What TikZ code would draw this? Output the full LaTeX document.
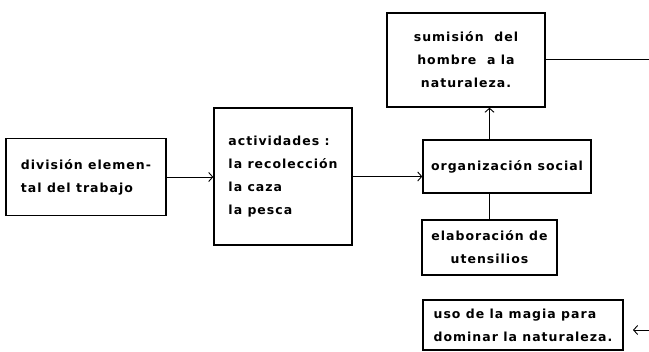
\documentclass[tikz,border=0pt]{standalone}
\usepackage{fontspec}
\newfontfamily\handfont{DejaVu Sans}[LetterSpace=8]
\usetikzlibrary{arrows.meta,calc}

\begin{document}
\begin{tikzpicture}[x=1pt,y=-1pt,
    caja/.style={draw=black,line width=1.4pt,align=left,inner sep=0pt,
      font=\handfont\bfseries\fontsize{12.5}{23}\selectfont},
    flecha/.style={line width=0.9pt,-{Straight Barb[length=4pt,width=9pt]}},
    linea/.style={line width=1pt}]
    \useasboundingbox (0,0) rectangle (649,352);
    \fill[white] (0,0) rectangle (649,352);
    %
    \node[caja,minimum width=160pt,minimum height=77pt] (division) at (86,177)
      {división elemen-\\tal del trabajo};
    \node[caja,minimum width=138pt,minimum height=137pt] (actividades) at (283,176.5)
      {actividades :\\la recolección\\la caza\\la pesca};
    \node[caja,align=center,minimum width=168pt,minimum height=53pt] (organizacion) at (507,166.5)
      {organización social};
    \node[caja,align=center,minimum width=158pt,minimum height=94pt] (sumision) at (466,60)
      {sumisión \ del\\hombre \ a la\\naturaleza.};
    \node[caja,align=center,minimum width=135pt,minimum height=55pt] (utensilios) at (489.5,247.5)
      {elaboración de\\utensilios};
    \node[caja,minimum width=200pt,minimum height=50pt] (magia) at (523,325)
      {uso de la magia para\\dominar la naturaleza.};
    \coordinate (sumfin) at (649,62);
    \coordinate (magiaini) at (649,330);
    \coordinate (magiafin) at (633,330);
    %
    \draw[flecha] (division.east) -- (division.east -| actividades.west);
    \draw[flecha] (actividades.east) -- (actividades.east -| organizacion.west);
    \draw[flecha] (organizacion.north -| utensilios.north) -- (sumision.south -| utensilios.north);
    \draw[linea] (organizacion.south -| utensilios.north) -- (utensilios.north);
    \draw[linea] (sumision.east) -- (sumision.east -| sumfin);
    \draw[flecha] (magiaini) -- (magiafin);
\end{tikzpicture}
\end{document}
